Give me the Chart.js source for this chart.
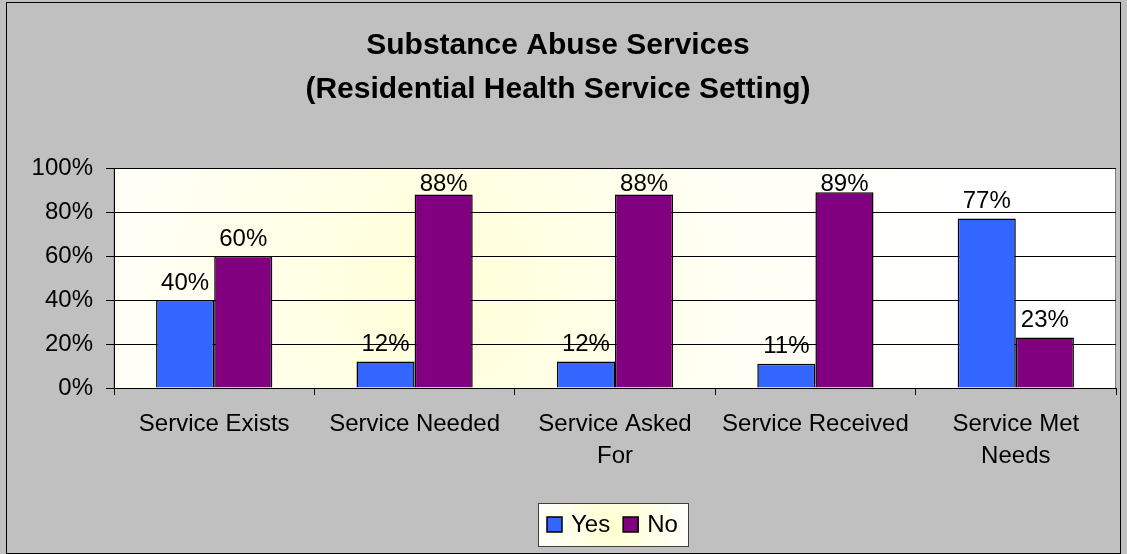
<!DOCTYPE html>
<html>
<head>
<meta charset="utf-8">
<script src="https://cdn.jsdelivr.net/npm/chart.js@4/dist/chart.umd.min.js"></script>
<style>
  body { margin: 0; background: #c0c0c0; }
  .box { width: 1127px; height: 554px; position: relative; }
</style>
</head>
<body>
<div class="box"><canvas id="grafico"></canvas></div>
<script>
// dati
const categorie = [['Service Exists'], ['Service Needed'], ['Service Asked', 'For'], ['Service Received'], ['Service Met', 'Needs']];
const valoriSi = [40, 12, 12, 11, 77];
const valoriNo = [60, 88, 88, 89, 23];
const nomiSerie = ['Yes', 'No'];
const tickY = [0, 20, 40, 60, 80, 100];

const font = 'Liberation Sans, Arial, sans-serif';

// sfondo grigio, area del grafico sfumata, bordo
const sfondo = {
    id: 'sfondo',
    beforeDraw(chart) {
        const c = chart.ctx, a = chart.chartArea;
        c.save();
        c.fillStyle = '#c0c0c0';
        c.fillRect(0, 0, chart.width, chart.height);
        c.strokeStyle = '#000';
        c.lineWidth = 1;
        c.strokeRect(6.5, 2.5, chart.width - 13, chart.height - 3);
        const g = c.createRadialGradient(440, 290, 10, 440, 290, 520);
        g.addColorStop(0, '#ffffd8');
        g.addColorStop(0.55, '#fffff4');
        g.addColorStop(1, '#ffffff');
        c.fillStyle = g;
        c.fillRect(a.left, a.top, a.right - a.left, a.bottom - a.top);
        c.strokeStyle = '#808080';
        c.strokeRect(a.left, a.top + 0.5, a.right - a.left - 0.5, a.bottom - a.top);
        c.restore();
    },
    afterDatasetsDraw(chart) {
        const c = chart.ctx, a = chart.chartArea;
        c.save();
        c.font = '24px ' + font;
        c.fillStyle = '#000';
        c.textAlign = 'center';
        c.textBaseline = 'bottom';
        chart.data.datasets.forEach((ds, i) => {
            chart.getDatasetMeta(i).data.forEach((bar, j) => {
                // le etichette restano dentro l'area del grafico
                const y = Math.max(bar.y - 5, a.top + 28);
                c.fillText(ds.data[j] + '%', bar.x, y);
            });
        });

        // legenda
        const x0 = 538, y0 = 503, w = 150, h = 43;
        const g = c.createRadialGradient(x0 + w / 2, y0 + h / 2, 2, x0 + w / 2, y0 + h / 2, 80);
        g.addColorStop(0, '#ffffd0');
        g.addColorStop(1, '#ffffff');
        c.fillStyle = g;
        c.fillRect(x0, y0, w, h);
        c.strokeStyle = '#404040';
        c.lineWidth = 1;
        c.strokeRect(x0 + 0.5, y0 + 0.5, w, h);
        c.textAlign = 'left';
        c.textBaseline = 'middle';
        let x = 547;
        chart.data.datasets.forEach(ds => {
            c.fillStyle = ds.backgroundColor;
            c.fillRect(x, y0 + 14, 15, 15);
            c.strokeStyle = '#000';
            c.lineWidth = 1.5;
            c.strokeRect(x, y0 + 14, 15, 15);
            c.fillStyle = '#000';
            c.fillText(ds.label, x + 24, y0 + 22);
            x += 24 + c.measureText(ds.label).width + 13;
        });
        c.restore();
    }
};

const ctx = document.getElementById('grafico').getContext('2d');
const myChart = new Chart(ctx, {
    type: 'bar',
    data: {
        labels: categorie,
        datasets: [{
            label: nomiSerie[0],
            data: valoriSi,
            backgroundColor: '#3366ff',
            borderColor: '#000',
            borderWidth: 1.5
        }, {
            label: nomiSerie[1],
            data: valoriNo,
            backgroundColor: '#800080',
            borderColor: '#000',
            borderWidth: 1.5
        }]
    },
    options: {
        responsive: true,
        maintainAspectRatio: false,
        animation: false,
        layout: { padding: { left: 0, right: 11, top: 0, bottom: 0 } },
        datasets: { bar: { barPercentage: 1, categoryPercentage: 0.58 } },
        plugins: {
            legend: { display: false },
            tooltip: { enabled: false },
            title: {
                display: true,
                text: ['Substance Abuse Services', '(Residential Health Service Setting)'],
                color: '#000',
                font: { family: font, size: 30, weight: 'bold', lineHeight: 1.45 },
                padding: { top: 24, bottom: 57 }
            }
        },
        scales: {
            x: {
                grid: { offset: true, drawOnChartArea: false, color: '#000', tickLength: 7 },
                border: { color: '#000', width: 1 },
                ticks: { color: '#000', font: { family: font, size: 24, lineHeight: 1.33 }, maxRotation: 0, padding: 13 },
                afterFit(s) { s.height = 166; }
            },
            y: {
                min: 0,
                max: 100,
                afterBuildTicks(s) { s.ticks = tickY.map(v => ({ value: v })); },
                grid: { color: '#000', tickLength: 8 },
                border: { color: '#000', width: 1 },
                ticks: { color: '#000', font: { family: font, size: 24 }, padding: 13, callback: v => v + '%' },
                afterFit(s) { s.width = 114; }
            }
        }
    },
    plugins: [sfondo]
});
</script>
</body>
</html>
